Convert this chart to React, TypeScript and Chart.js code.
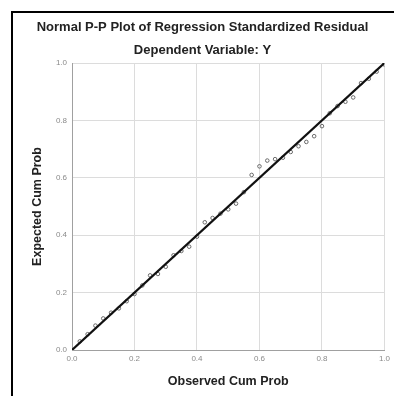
import React, { useEffect, useRef } from "react";
import { Chart, registerables } from "chart.js";

Chart.register(...registerables);

const observedCumProb = [
  0.025, 0.05, 0.075, 0.1, 0.125, 0.15, 0.175, 0.2, 0.225, 0.25,
  0.275, 0.3, 0.325, 0.35, 0.375, 0.4, 0.425, 0.45, 0.475, 0.5,
  0.525, 0.55, 0.575, 0.6, 0.625, 0.65, 0.675, 0.7, 0.725, 0.75,
  0.775, 0.8, 0.825, 0.85, 0.875, 0.9, 0.925, 0.95, 0.975, 1.0,
];
const expectedCumProb = [
  0.03, 0.055, 0.085, 0.11, 0.13, 0.145, 0.17, 0.195, 0.225, 0.26,
  0.265, 0.29, 0.33, 0.345, 0.36, 0.395, 0.445, 0.46, 0.475, 0.49,
  0.51, 0.55, 0.61, 0.64, 0.66, 0.665, 0.67, 0.69, 0.71, 0.725,
  0.745, 0.78, 0.825, 0.85, 0.865, 0.88, 0.93, 0.945, 0.97, 0.995,
];
const referenceLineX = [0, 1];
const referenceLineY = [0, 1];
const tickValues = [0, 0.2, 0.4, 0.6, 0.8, 1.0];

const FONT = "Arial, 'Liberation Sans', sans-serif";

export default function App() {
  const canvasRef = useRef<HTMLCanvasElement | null>(null);

  useEffect(() => {
    if (!canvasRef.current) return;
    const chart = new Chart(canvasRef.current, {
      type: "scatter",
      data: {
        datasets: [
          {
            label: "Reference",
            type: "line",
            data: referenceLineX.map((x, i) => ({ x, y: referenceLineY[i] })),
            borderColor: "#111111",
            borderWidth: 2.2,
            pointRadius: 0,
            fill: false,
            order: 1,
          },
          {
            label: "Observed",
            data: observedCumProb.map((x, i) => ({ x, y: expectedCumProb[i] })),
            pointRadius: 1.8,
            pointBorderWidth: 1,
            pointBackgroundColor: "rgba(255,255,255,0)",
            pointBorderColor: "#6a6a6a",
            order: 2,
          },
        ],
      },
      options: {
        animation: false,
        responsive: false,
        layout: { padding: { left: 20, right: 9, top: 0, bottom: 0 } },
        plugins: {
          legend: { display: false },
          tooltip: { enabled: false },
          title: {
            display: true,
            text: "Normal P-P Plot of Regression Standardized Residual",
            color: "#222222",
            font: { family: FONT, size: 13, weight: "bold" },
            padding: { top: 20, bottom: 0 },
          },
          subtitle: {
            display: true,
            text: "Dependent Variable: Y",
            color: "#222222",
            font: { family: FONT, size: 13, weight: "bold" },
            padding: { top: 6.6, bottom: 5.2 },
          },
        },
        scales: {
          x: {
            type: "linear",
            min: 0,
            max: 1,
            afterBuildTicks: (s: any) => {
              s.ticks = tickValues.map((v) => ({ value: v }));
            },
            afterFit: (s: any) => {
              s.height = 46;
            },
            grid: { color: "#dcdcdc", lineWidth: 1, drawTicks: false },
            border: { color: "#a0a0a0", width: 1 },
            ticks: {
              color: "#8a8a8a",
              font: { family: FONT, size: 8 },
              padding: 4,
              maxRotation: 0,
              callback: (v: any) => Number(v).toFixed(1),
            },
            title: {
              display: true,
              text: "Observed Cum Prob",
              color: "#222222",
              font: { family: FONT, size: 12.5, weight: "bold" },
              padding: { top: 0, bottom: 6.5 },
            },
          },
          y: {
            type: "linear",
            min: 0,
            max: 1,
            afterBuildTicks: (s: any) => {
              s.ticks = tickValues.map((v) => ({ value: v }));
            },
            afterFit: (s: any) => {
              s.width = 52;
            },
            grid: { color: "#dcdcdc", lineWidth: 1, drawTicks: false },
            border: { color: "#a0a0a0", width: 1 },
            ticks: {
              color: "#8a8a8a",
              font: { family: FONT, size: 8 },
              padding: 5,
              callback: (v: any) => Number(v).toFixed(1),
            },
            title: {
              display: true,
              text: "Expected Cum Prob",
              color: "#222222",
              font: { family: FONT, size: 12.5, weight: "bold" },
              padding: { top: 10, bottom: 0 },
            },
          },
        },
      },
    });
    return () => chart.destroy();
  }, []);

  return (
    <div
      style={{
        position: "fixed",
        left: 0,
        top: 0,
        width: 394,
        height: 396,
        background: "#ffffff",
        overflow: "hidden",
      }}
    >
      <div
        style={{
          position: "absolute",
          left: 11,
          top: 11,
          width: 420,
          height: 420,
          border: "2px solid #000000",
          boxSizing: "border-box",
        }}
      />
      <canvas
        ref={canvasRef}
        width={394}
        height={396}
        style={{ position: "absolute", left: 0, top: 0, width: 394, height: 396 }}
      />
    </div>
  );
}
